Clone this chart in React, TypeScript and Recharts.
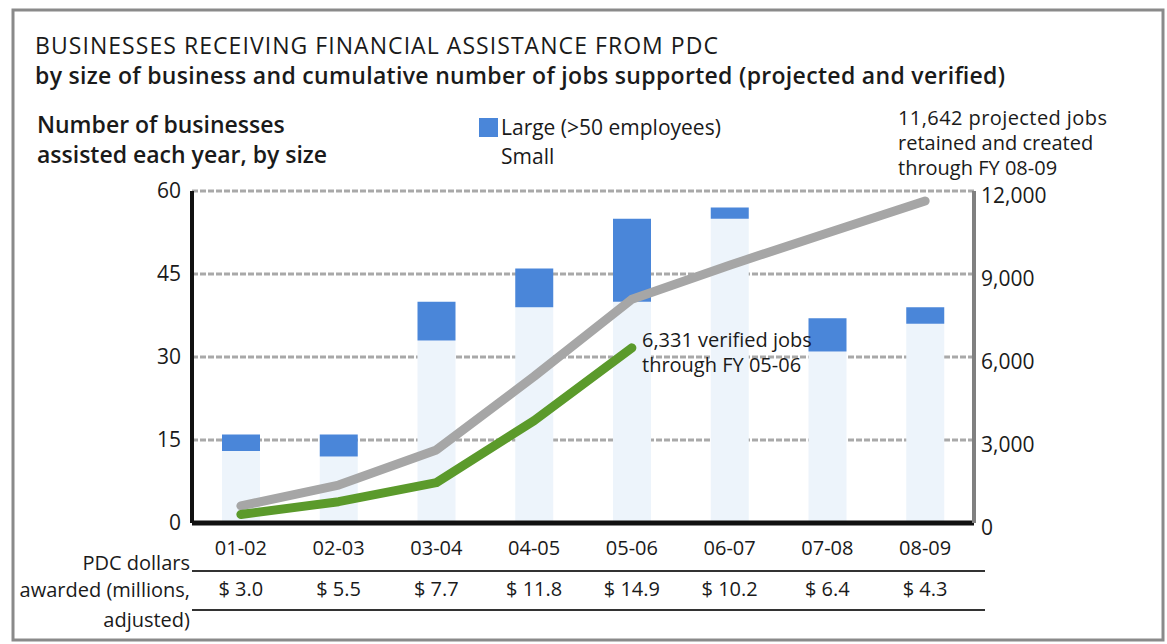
import React from 'react';
import { ComposedChart, Bar, Line, XAxis, YAxis, CartesianGrid } from 'recharts';

const years = ['01-02', '02-03', '03-04', '04-05', '05-06', '06-07', '07-08', '08-09'];
const smallBiz = [13, 12, 33, 39, 40, 55, 31, 36];
const largeBiz = [3, 4, 7, 7, 15, 2, 6, 3];
const projectedJobs = [620, 1370, 2640, 5300, 8090, 9320, 10480, 11642];
const verifiedJobs: (number | null)[] = [310, 770, 1460, 3700, 6331, null, null, null];
const dollars = ['$ 3.0', '$ 5.5', '$ 7.7', '$ 11.8', '$ 14.9', '$ 10.2', '$ 6.4', '$ 4.3'];
const leftTicks = [0, 15, 30, 45, 60];
const rightTicks = [0, 3000, 6000, 9000, 12000];

const data = years.map((y, i) => ({
  year: y,
  small: smallBiz[i],
  large: largeBiz[i],
  projected: projectedJobs[i],
  verified: verifiedJobs[i],
  dollars: dollars[i],
}));

const FONT = '"Open Sans", "DejaVu Sans", sans-serif';
const TXT = '#1a1a1a';

const YearTick = (props: any) => {
  const { x, y, payload } = props;
  return (
    <text x={x} y={y} dy={24} textAnchor="middle" fontFamily={FONT} fontSize={20} fill={TXT}>
      {payload.value}
    </text>
  );
};

const DollarTick = (props: any) => {
  const { x, y, payload, index } = props;
  return (
    <text x={x} y={y} dy={25} textAnchor="middle" fontFamily={FONT} fontSize={20} fill={TXT}>
      {dollars[index] ?? payload.value}
    </text>
  );
};

const LeftTick = (props: any) => {
  const { x, y, payload } = props;
  return (
    <text x={x} y={y} dy={7} textAnchor="end" fontFamily={FONT} fontSize={21} fill={TXT}>
      {payload.value}
    </text>
  );
};

const RightTick = (props: any) => {
  const { x, y, payload } = props;
  return (
    <text x={x} y={y} dy={12} textAnchor="start" fontFamily={FONT} fontSize={21} fill={TXT}>
      {Number(payload.value).toLocaleString('en-US')}
    </text>
  );
};

export default function App() {
  return (
    <div style={{ position: 'absolute', left: 0, top: 0, width: 1167, height: 644, background: '#ffffff', overflow: 'hidden' }}>
      <ComposedChart
        width={1167}
        height={644}
        data={data}
        margin={{ top: 191, right: 0, bottom: 41, left: 0 }}
        barCategoryGap={0}
      >
        <CartesianGrid vertical={false} yAxisId="left" stroke="#a9a9a9" strokeWidth={3} strokeDasharray="6 2" />
        <XAxis
          dataKey="year"
          xAxisId={0}
          height={40}
          tickLine={false}
          axisLine={{ stroke: '#111', strokeWidth: 5 }}
          tick={<YearTick />}
          interval={0}
        />
        <XAxis
          dataKey="year"
          xAxisId="usd"
          height={40}
          tickLine={false}
          axisLine={false}
          tick={<DollarTick />}
          interval={0}
        />
        <YAxis
          yAxisId="left"
          orientation="left"
          width={192}
          domain={[0, 60]}
          ticks={leftTicks}
          tickLine={false}
          tickSize={6}
          tickMargin={5}
          axisLine={{ stroke: '#111', strokeWidth: 4 }}
          tick={<LeftTick />}
        />
        <YAxis
          yAxisId="right"
          orientation="right"
          width={193}
          domain={[0, 12000]}
          ticks={rightTicks}
          tickLine={false}
          tickSize={4}
          tickMargin={3}
          axisLine={{ stroke: '#808080', strokeWidth: 4 }}
          tick={<RightTick />}
        />
        <Bar yAxisId="left" dataKey="small" stackId="a" fill="#edf4fb" barSize={38} isAnimationActive={false} />
        <Bar yAxisId="left" dataKey="large" stackId="a" fill="#4a86d9" barSize={38} isAnimationActive={false} />
        <Line
          yAxisId="right"
          dataKey="projected"
          stroke="#a6a6a6"
          strokeWidth={9}
          strokeLinecap="round"
          strokeLinejoin="round"
          dot={false}
          activeDot={false}
          type="linear"
          isAnimationActive={false}
        />
        <Line
          yAxisId="right"
          dataKey="verified"
          stroke="#5b9a2b"
          strokeWidth={9}
          strokeLinecap="round"
          strokeLinejoin="round"
          dot={false}
          activeDot={false}
          type="linear"
          connectNulls={false}
          isAnimationActive={false}
        />
      </ComposedChart>
      <svg
        width={1167}
        height={644}
        style={{ position: 'absolute', left: 0, top: 0, pointerEvents: 'none' }}
      >
        <rect x={13} y={10} width={1150} height={630} fill="none" stroke="#8a8a8a" strokeWidth={3} />
        <text x={35} y={54} fontFamily={FONT} fontSize={23} fill={TXT} textLength={683} lengthAdjust="spacing">
          BUSINESSES RECEIVING FINANCIAL ASSISTANCE FROM PDC
        </text>
        <text x={35} y={84} fontFamily={FONT} fontSize={23} fontWeight={600} fill={TXT} textLength={970} lengthAdjust="spacing">
          by size of business and cumulative number of jobs supported (projected and verified)
        </text>
        <text x={37} y={133} fontFamily={FONT} fontSize={23} fontWeight={600} fill={TXT}>
          Number of businesses
        </text>
        <text x={37} y={163} fontFamily={FONT} fontSize={23} fontWeight={600} fill={TXT}>
          assisted each year, by size
        </text>
        <rect x={479} y={118} width={19} height={19} fill="#4a86d9" />
        <text x={501} y={135} fontFamily={FONT} fontSize={21} fill={TXT}>
          Large (&gt;50 employees)
        </text>
        <text x={501} y={164} fontFamily={FONT} fontSize={21} fill={TXT}>
          Small
        </text>
        <text x={898} y={125} fontFamily={FONT} fontSize={20} fill={TXT} textLength={209} lengthAdjust="spacing">
          11,642 projected jobs
        </text>
        <text x={898} y={150} fontFamily={FONT} fontSize={20} fill={TXT}>
          retained and created
        </text>
        <text x={898} y={175} fontFamily={FONT} fontSize={20} fill={TXT}>
          through FY 08-09
        </text>
        <text x={642} y={347} fontFamily={FONT} fontSize={20} fill={TXT}>
          6,331 verified jobs
        </text>
        <text x={642} y={372} fontFamily={FONT} fontSize={20} fill={TXT}>
          through FY 05-06
        </text>
        <text x={190} y={570} textAnchor="end" fontFamily={FONT} fontSize={20} fill={TXT}>
          PDC dollars
        </text>
        <line x1={192} y1={571} x2={985} y2={571} stroke="#333" strokeWidth={2} />
        <text x={190} y={597} textAnchor="end" fontFamily={FONT} fontSize={20} fill={TXT}>
          awarded (millions,
        </text>
        <line x1={192} y1={610} x2={985} y2={610} stroke="#333" strokeWidth={2} />
        <text x={190} y={627} textAnchor="end" fontFamily={FONT} fontSize={20} fill={TXT}>
          adjusted)
        </text>
      </svg>
    </div>
  );
}
